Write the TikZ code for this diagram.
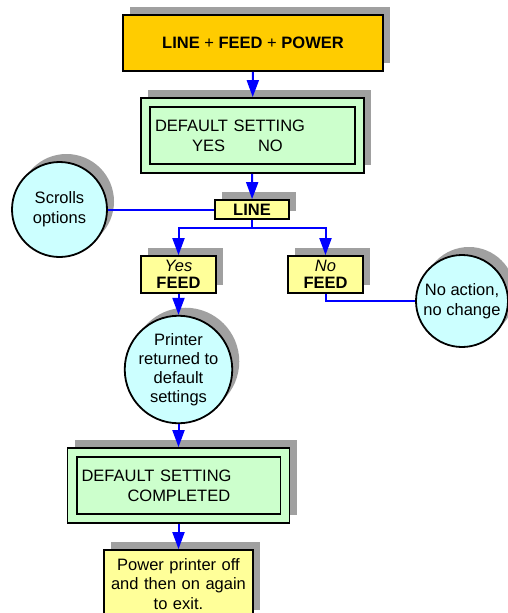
\documentclass[tikz,border=0pt]{standalone}
\usepackage{fontspec}
\setmainfont{Liberation Sans}
\usetikzlibrary{arrows.meta,shadows}

\definecolor{keyorange}{HTML}{FFCC00}
\definecolor{lcdgreen}{HTML}{CCFFCC}
\definecolor{notepale}{HTML}{FFFF99}
\definecolor{bubblecyan}{HTML}{CCFFFF}
\definecolor{shadowgray}{HTML}{A0A0A0}

\begin{document}
\begin{tikzpicture}[x=1pt,y=-1pt,
	every node/.style={font=\fontsize{16.5}{20}\selectfont,inner sep=0pt},
	grayshadow/.style={drop shadow={shadow xshift=7pt,shadow yshift=8pt,fill=shadowgray,opacity=1}},
	box/.style={draw,line width=1.8pt,grayshadow},
	bubble/.style={circle,draw,line width=1.8pt,fill=bubblecyan,align=center,grayshadow},
	flow/.style={blue,line width=2pt,-{Triangle[length=17pt,width=12pt]}},
	link/.style={blue,line width=2pt}]
\useasboundingbox (0,0) rectangle (507,613);

% keys held at power on
\node[box,fill=keyorange,minimum width=260pt,minimum height=56pt] (keys) at (253,43)
	{\textbf{LINE} + \textbf{FEED} + \textbf{POWER}};

% display
\node[box,fill=lcdgreen,minimum width=223pt,minimum height=75pt,text width=195pt,align=left] (setting) at (252.5,135.5)
	{DEFAULT SETTING\\\hspace*{37pt}YES\hspace{33pt}NO};
\draw[line width=1.8pt] ([xshift=10pt,yshift=-10pt]setting.north west) rectangle ([xshift=-10pt,yshift=10pt]setting.south east);

\node[box,fill=notepale,minimum width=74pt,minimum height=19pt] (line) at (252,209.5) {\textbf{LINE}};
\node[bubble,minimum size=95pt] (scrolls) at (59.5,209.5) {Scrolls\\options};

\node[box,fill=notepale,minimum width=75pt,minimum height=37pt,align=center,font=\fontsize{16.5}{17}\selectfont] (yes) at (178.5,274.5)
	{\textit{Yes}\\\textbf{FEED}};
\node[box,fill=notepale,minimum width=75pt,minimum height=37pt,align=center,font=\fontsize{16.5}{17}\selectfont] (no) at (325.5,274.5)
	{\textit{No}\\\textbf{FEED}};
\node[bubble,minimum size=92pt] (noact) at (462,301) {No action,\\no change};

\node[bubble,minimum size=103pt,font=\fontsize{16.5}{19}\selectfont] (printer) at (178.5,369.5)
	{Printer\\returned to\\default\\settings};

\node[box,fill=lcdgreen,minimum width=222pt,minimum height=75pt,text width=194pt,align=left] (done) at (178.5,485.5)
	{DEFAULT SETTING\\\hspace*{46pt}COMPLETED};
\draw[line width=1.8pt] ([xshift=10pt,yshift=-10pt]done.north west) rectangle ([xshift=-10pt,yshift=10pt]done.south east);

\node[box,fill=notepale,minimum width=149pt,minimum height=68pt,text width=149pt,align=center,font=\fontsize{16.5}{19.5}\selectfont] (exit) at (178.5,584)
	{Power printer off\\and then on again\\to exit.};

% connectors
\coordinate (split) at (252,228);
\draw[flow] (keys) -- (setting);
\draw[flow] (setting) -- (line);
\draw[link] (line.west) -- (scrolls.east);
\draw[link] (line.south) -- (split);
\draw[flow] (split) -| (yes);
\draw[flow] (split) -| (no);
\draw[link] (no.south) |- (noact);
\draw[flow] (yes) -- (printer);
\draw[flow] (printer) -- (done);
\draw[flow] (done) -- (exit);
\end{tikzpicture}
\end{document}
